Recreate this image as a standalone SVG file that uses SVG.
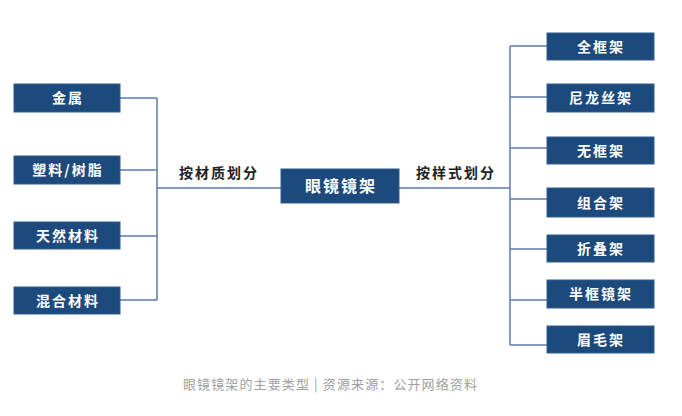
<svg xmlns="http://www.w3.org/2000/svg" width="682" height="416" viewBox="0 0 682 416">
<style>
.box{fill:#1d4a7d;stroke:#2f5c8f;stroke-width:1}
.bt{fill:#ffffff;font-family:"Noto Sans CJK SC",sans-serif;font-weight:bold;font-size:14px;text-anchor:middle;letter-spacing:2px}
.lbl{fill:#222222;font-family:"Noto Sans CJK SC",sans-serif;font-weight:bold;font-size:14px;text-anchor:middle;letter-spacing:2px}
.cap{fill:#a0a0a0;font-family:"Noto Sans CJK SC",sans-serif;font-size:13px}
.ln{fill:none;stroke:#5b7ba8;stroke-width:1.5}
</style>
<rect width="682" height="416" fill="#ffffff"/>
<g id="connectors">
<path class="ln" d="M120,98H157M120,170H157M120,236H157M120,300H157M157,98V300M157,188H281"/>
<path class="ln" d="M399,188H510M510,46V345M510,46H547M510,97H547M510,148H547M510,199H547M510,249H547M510,300H547M510,345H547"/>
<text class="lbl" x="219" y="178">按材质划分</text>
<text class="lbl" x="456" y="178">按样式划分</text>
</g>
<g id="n-metal"><rect class="box" x="14" y="84" width="106" height="28"/><text class="bt" x="68" y="103">金属</text></g>
<g id="n-plastic"><rect class="box" x="14" y="156" width="106" height="28"/><text class="bt" x="68" y="175">塑料/树脂</text></g>
<g id="n-natural"><rect class="box" x="14" y="222" width="106" height="27"/><text class="bt" x="68" y="241">天然材料</text></g>
<g id="n-mixed"><rect class="box" x="14" y="287" width="106" height="27"/><text class="bt" x="68" y="306">混合材料</text></g>
<g id="n-center"><rect class="box" x="281" y="169" width="118" height="34"/><text class="bt" x="341" y="192" style="font-size:16px">眼镜镜架</text></g>
<g id="n-full"><rect class="box" x="547" y="33" width="107" height="27"/><text class="bt" x="601" y="52">全框架</text></g>
<g id="n-nylon"><rect class="box" x="547" y="84" width="107" height="28"/><text class="bt" x="601" y="103">尼龙丝架</text></g>
<g id="n-rimless"><rect class="box" x="547" y="137" width="107" height="27"/><text class="bt" x="601" y="156">无框架</text></g>
<g id="n-combo"><rect class="box" x="547" y="188" width="107" height="29"/><text class="bt" x="601" y="208">组合架</text></g>
<g id="n-fold"><rect class="box" x="547" y="235" width="107" height="27"/><text class="bt" x="601" y="254">折叠架</text></g>
<g id="n-half"><rect class="box" x="547" y="280" width="107" height="28"/><text class="bt" x="601" y="299">半框镜架</text></g>
<g id="n-brow"><rect class="box" x="547" y="326" width="107" height="27"/><text class="bt" x="601" y="345">眉毛架</text></g>
<text class="cap" x="183" y="389" textLength="294" lengthAdjust="spacing">眼镜镜架的主要类型 | 资源来源：公开网络资料</text>
</svg>
